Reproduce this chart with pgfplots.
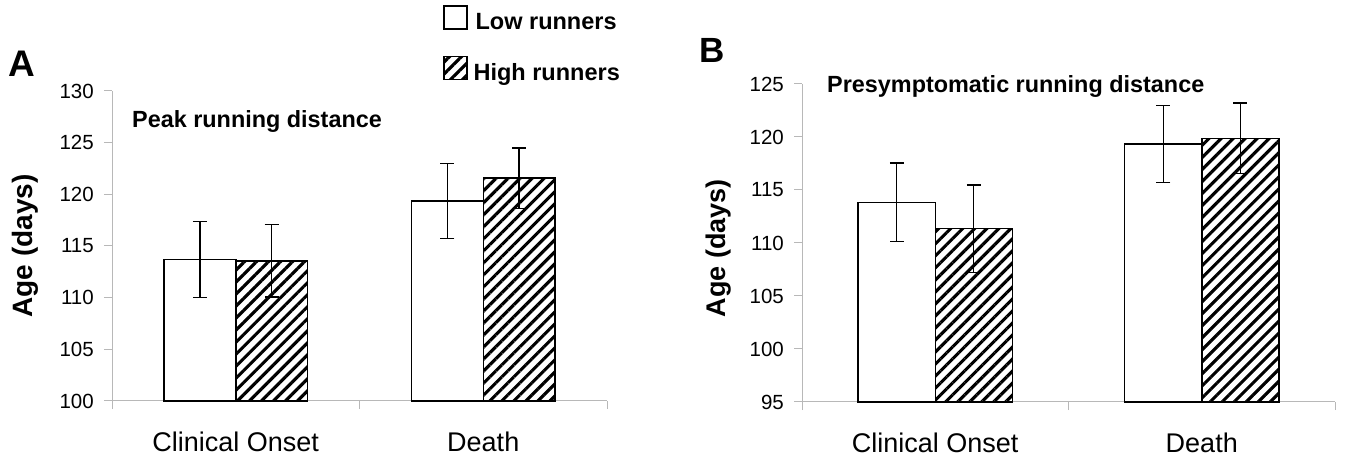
\documentclass[border=0pt]{standalone}
\usepackage{fontspec}
\setmainfont{Liberation Sans}
\usepackage{pgfplots}
\pgfplotsset{compat=1.18}
\usetikzlibrary{patterns.meta}
\definecolor{axgray}{gray}{0.72}
\pgfplotsset{
  panel/.style={
    scale only axis, anchor=south west, clip=false,
    xmin=0, xmax=2,
    axis x line*=bottom, axis y line*=left,
    axis line style={draw=axgray, line width=1bp, -},
    xtick={0,1,2}, xticklabels={},
    extra x ticks={0.5,1.5},
    extra x tick labels={Clinical Onset, Death},
    extra x tick style={major tick length=0pt, tick style={draw=none}},
    tick align=outside,
    major tick length=8bp,
    tick style={draw=axgray, line width=1bp},
    /pgf/number format/assume math mode=true,
    yticklabel style={font=\fontsize{20.5bp}{23bp}\selectfont, inner sep=0pt, xshift=-10bp},
    xticklabel style={font=\fontsize{27bp}{30bp}\selectfont, inner sep=0pt, yshift=-31bp},
    ybar, bar width=0.289, bar shift=0pt,
  },
  lowbar/.style={draw=black, fill=white, line width=1.5bp,
    error bars/.cd, y dir=both, y explicit,
    error bar style={black, line width=1.3bp},
    error mark options={black, line width=1.3bp, mark size=7bp, rotate=90}},
  highbar/.style={draw=black, fill=white, line width=1.5bp,
    postaction={pattern={Lines[angle=45, distance=8.5bp, line width=3.1bp]}, pattern color=black},
    error bars/.cd, y dir=both, y explicit,
    error bar style={black, line width=1.3bp},
    error mark options={black, line width=1.3bp, mark size=7bp, rotate=90}},
}
\begin{document}
\begin{tikzpicture}
\useasboundingbox (0,0) rectangle (1345bp,458bp);

% Panel A
\begin{axis}[panel,
  at={(112bp,57bp)}, width=495bp, height=310bp,
  ymin=100, ymax=130, ytick={100,105,...,130},
  legend style={draw=none, fill=none, at={(axis description cs:0.6687,1.277)},
    anchor=north west, inner sep=0pt, row sep=25bp,
    font=\fontsize{23.5bp}{25bp}\selectfont\bfseries,
    nodes={inner sep=0pt, outer sep=0pt}},
  legend cell align=left,
  legend image code/.code={\draw[#1, line width=1.4bp] (0bp,-7bp) rectangle (23bp,16bp);},
  legend columns=1,
]
\addplot+[lowbar] coordinates {(0.3555,113.7) +- (0,3.7) (1.3555,119.35) +- (0,3.6)};
\addlegendentry{\hspace{8bp}Low runners}
\addplot+[highbar] coordinates {(0.6445,113.55) +- (0,3.5) (1.6445,121.56) +- (0,2.93)};
\addlegendentry{\hspace{6bp}High runners}
\end{axis}

% Panel B
\begin{axis}[panel,
  at={(802bp,56bp)}, width=533bp, height=318bp,
  ymin=95, ymax=125, ytick={95,100,...,125},
]
\addplot+[lowbar] coordinates {(0.3555,113.84) +- (0,3.7) (1.3555,119.34) +- (0,3.6)};
\addplot+[highbar] coordinates {(0.6445,111.35) +- (0,4.13) (1.6445,119.87) +- (0,3.34)};
\end{axis}

% texts
\node[anchor=base west, inner sep=0pt, font=\fontsize{37bp}{40bp}\selectfont\bfseries] at (8bp,381bp) {A};
\node[anchor=base west, inner sep=0pt, font=\fontsize{35bp}{38bp}\selectfont\bfseries] at (699bp,395bp) {B};
\node[anchor=base west, inner sep=0pt, font=\fontsize{23.4bp}{26bp}\selectfont\bfseries] at (132bp,330bp) {Peak running distance};
\node[anchor=base west, inner sep=0pt, font=\fontsize{23.4bp}{26bp}\selectfont\bfseries] at (827bp,365bp) {Presymptomatic running distance};
\node[rotate=90, inner sep=0pt, font=\fontsize{28bp}{30bp}\selectfont\bfseries] at (25bp,212bp) {Age (days)};
\node[rotate=90, inner sep=0pt, font=\fontsize{27bp}{30bp}\selectfont\bfseries] at (719bp,210bp) {Age (days)};
\end{tikzpicture}
\end{document}
